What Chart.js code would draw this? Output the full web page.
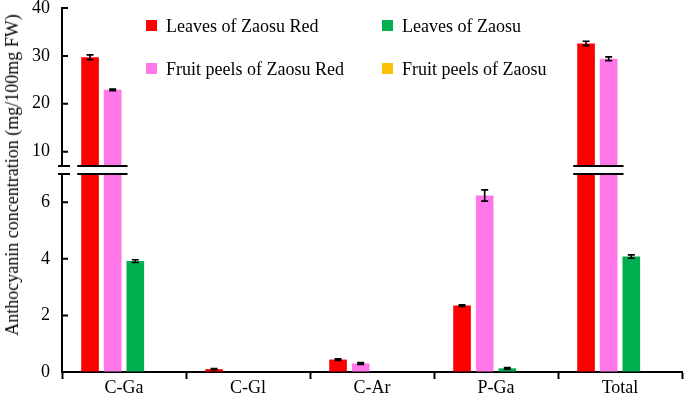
<!DOCTYPE html>
<html><head><meta charset="utf-8">
<script src="https://cdn.jsdelivr.net/npm/chart.js@4.4.0/dist/chart.umd.min.js"></script>
<style>
html,body{margin:0;padding:0;background:#fff;}
#wrap{position:relative;width:685px;height:403px;overflow:hidden;font-family:"Liberation Serif","Times New Roman",serif;background:#fff;}
#cTop{position:absolute;left:0;top:-22px;width:685px;height:218px;}
#cBot{position:absolute;left:0;top:144px;width:685px;height:258px;}
.ytitle{position:absolute;left:12px;top:175px;transform:translate(-50%,-50%) rotate(-90deg);white-space:nowrap;font-size:18px;line-height:18px;color:#000;}
.leg{position:absolute;font-size:18px;color:#000;white-space:nowrap;line-height:18px;}
.sw{position:absolute;width:11px;height:11px;}
</style></head><body>
<div id="wrap">
<canvas id="cTop" width="685" height="218"></canvas>
<canvas id="cBot" width="685" height="258"></canvas>
<div class="ytitle">Anthocyanin concentration (mg/100mg FW)</div>
<div id="legend"></div>
</div>
<script>
const categories = ['C-Ga', 'C-Gl', 'C-Ar', 'P-Ga', 'Total'];
const seriesNames = ['Leaves of Zaosu Red', 'Fruit peels of Zaosu Red', 'Leaves of Zaosu', 'Fruit peels of Zaosu'];
const seriesColors = ['#FF0000', '#FF77E8', '#00B050', '#FFC000'];

const leavesZaosuRed     = [29.7, 0.10, 0.44, 2.35, 32.6];
const leavesZaosuRedErr  = [0.5, 0.02, 0.03, 0.03, 0.45];
const peelsZaosuRed      = [22.9, 0, 0.30, 6.24, 29.4];
const peelsZaosuRedErr   = [0.15, 0, 0.03, 0.2, 0.4];
const leavesZaosu        = [3.92, 0, 0, 0.13, 4.08];
const leavesZaosuErr     = [0.05, 0, 0, 0.03, 0.06];
const peelsZaosu         = [0, 0, 0, 0, 0];
const peelsZaosuErr      = [0, 0, 0, 0, 0];

const topTicks = [10, 20, 30, 40];
const bottomTicks = [0, 2, 4, 6];
const breakValue = 7;
const topMax = 40;
const bottomMin = 0;

const seriesValues = [leavesZaosuRed, peelsZaosuRed, leavesZaosu, peelsZaosu];
const seriesErrors = [leavesZaosuRedErr, peelsZaosuRedErr, leavesZaosuErr, peelsZaosuErr];

const FONT = {family: "'Liberation Serif','Times New Roman',serif", size: 18};

function makeDatasets() {
  return seriesNames.map((n, i) => ({
    label: n,
    data: seriesValues[i].slice(),
    errors: seriesErrors[i],
    backgroundColor: seriesColors[i],
    borderWidth: 0,
    categoryPercentage: 0.73,
    barPercentage: 0.78
  }));
}

const errPlugin = {
  id: 'errbars',
  afterDatasetsDraw(chart) {
    const ctx = chart.ctx, ys = chart.scales.y;
    ctx.save();
    ctx.strokeStyle = '#000';
    ctx.lineWidth = 1.6;
    chart.data.datasets.forEach((ds, i) => {
      const meta = chart.getDatasetMeta(i);
      ds.data.forEach((v, j) => {
        const e = ds.errors[j];
        if (!v || !e) return;
        if (v <= ys.min || v > ys.max) return;
        const b = meta.data[j];
        const x = b.x;
        const y1 = ys.getPixelForValue(v + e), y2 = ys.getPixelForValue(v - e);
        ctx.beginPath();
        ctx.moveTo(x, y1); ctx.lineTo(x, y2);
        ctx.moveTo(x - 3.5, y1); ctx.lineTo(x + 3.5, y1);
        ctx.moveTo(x - 3.5, y2); ctx.lineTo(x + 3.5, y2);
        ctx.stroke();
      });
    });
    ctx.restore();
  }
};

const axisDeco = {
  id: 'axisDeco',
  afterDraw(chart, args, opts) {
    const ctx = chart.ctx, ys = chart.scales.y, area = chart.chartArea;
    ctx.save();
    ctx.strokeStyle = '#000';
    ctx.lineWidth = 2;
    ctx.beginPath();
    ys.ticks.forEach(t => {
      const y = ys.getPixelForValue(t.value);
      ctx.moveTo(area.left, y); ctx.lineTo(area.left + 6, y);
    });
    const y = opts.top ? area.bottom : area.top;
    ctx.moveTo(area.left - 4, y); ctx.lineTo(area.left + 8, y);
    categories.forEach((c, j) => {
      let l = Infinity, r = -Infinity;
      chart.data.datasets.forEach((ds, i) => {
        if (ds.data[j] > breakValue) {
          const b = chart.getDatasetMeta(i).data[j];
          l = Math.min(l, b.x - b.width / 2);
          r = Math.max(r, b.x + b.width / 2);
        }
      });
      if (l < r) { ctx.moveTo(l - 4, y); ctx.lineTo(r + 6, y); }
    });
    ctx.stroke();
    ctx.restore();
  }
};

function baseOptions() {
  return {
    responsive: false,
    animation: false,
    events: [],
    plugins: {legend: {display: false}, tooltip: {enabled: false}},
  };
}

// Top segment
const topOpts = baseOptions();
topOpts.layout = {padding: {left: 0, right: 3, top: 30, bottom: 30}};
topOpts.plugins.axisDeco = {top: true};
topOpts.scales = {
  x: {display: false, offset: true},
  y: {
    min: breakValue, max: topMax,
    afterFit(s) { s.width = 62; },
    afterBuildTicks(s) { s.ticks = topTicks.map(v => ({value: v})); },
    grid: {display: true, drawOnChartArea: false, drawTicks: false},
    border: {display: true, color: '#000', width: 2},
    ticks: {color: '#000', padding: 12, font: FONT}
  }
};
new Chart(document.getElementById('cTop'), {
  type: 'bar',
  data: {labels: categories, datasets: makeDatasets()},
  options: topOpts,
  plugins: [errPlugin, axisDeco]
});

// Bottom segment
const botOpts = baseOptions();
botOpts.layout = {padding: {left: 0, right: 3, top: 30, bottom: 0}};
botOpts.plugins.axisDeco = {top: false};
botOpts.scales = {
  x: {
    offset: true,
    afterFit(s) { s.height = 30; },
    grid: {offset: true, drawOnChartArea: false, drawTicks: true, tickLength: 7, tickColor: '#000', tickWidth: 2},
    border: {display: true, color: '#000', width: 2},
    ticks: {color: '#000', padding: -2, font: FONT}
  },
  y: {
    min: bottomMin, max: breakValue,
    afterFit(s) { s.width = 62; },
    afterBuildTicks(s) { s.ticks = bottomTicks.map(v => ({value: v})); },
    grid: {display: true, drawOnChartArea: false, drawTicks: false},
    border: {display: true, color: '#000', width: 2},
    ticks: {color: '#000', padding: 12, font: FONT}
  }
};
new Chart(document.getElementById('cBot'), {
  type: 'bar',
  data: {labels: categories, datasets: makeDatasets()},
  options: botOpts,
  plugins: [errPlugin, axisDeco]
});

// Legend (two columns, column-major order)
const legendPos = [
  {x: 146, y: 20}, {x: 146, y: 63}, {x: 382, y: 20}, {x: 382, y: 63}
];
const legend = document.getElementById('legend');
seriesNames.forEach((n, i) => {
  const p = legendPos[i];
  const sw = document.createElement('div');
  sw.className = 'sw';
  sw.style.left = p.x + 'px';
  sw.style.top = p.y + 'px';
  sw.style.background = seriesColors[i];
  legend.appendChild(sw);
  const t = document.createElement('div');
  t.className = 'leg';
  t.style.left = (p.x + 20) + 'px';
  t.style.top = (p.y - 3) + 'px';
  t.textContent = n;
  legend.appendChild(t);
});
</script>
</body></html>
